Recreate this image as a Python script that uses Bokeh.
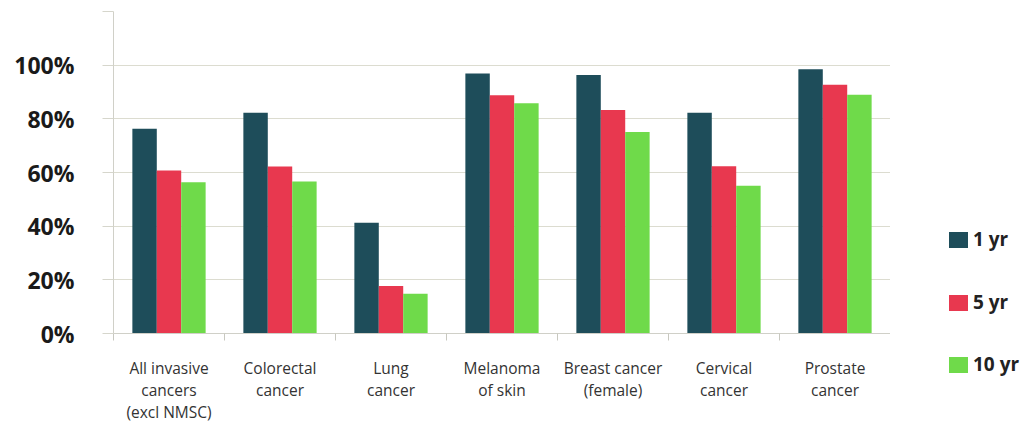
from bokeh.plotting import figure
from bokeh.layouts import row
from bokeh.models import (Range1d, LinearAxis, FixedTicker, ColumnDataSource, Div)
from bokeh.transform import dodge
from bokeh.embed import file_html
from bokeh.resources import INLINE

categories = ["All invasive\ncancers\n(excl NMSC)", "Colorectal\ncancer", "Lung\ncancer",
              "Melanoma\nof skin", "Breast cancer\n(female)", "Cervical\ncancer",
              "Prostate\ncancer"]
yr1 = [76.3, 82.3, 41.3, 96.9, 96.3, 82.3, 98.5]
yr5 = [60.7, 62.2, 17.7, 88.8, 83.3, 62.3, 92.7]
yr10 = [56.4, 56.6, 14.8, 85.8, 75.1, 55.1, 89.0]
series = ["1 yr", "5 yr", "10 yr"]
colors = ["#1e4d5a", "#e8384f", "#6fda4a"]
y_ticks = [0, 20, 40, 60, 80, 100]
y_labels = ["0%", "20%", "40%", "60%", "80%", "100%"]

n = len(categories)
centers = [i + 0.5 for i in range(n)]
bounds = list(range(n + 1))
source = ColumnDataSource(dict(x=centers, y1=yr1, y5=yr5, y10=yr10))
keys = ["y1", "y5", "y10"]
offsets = [-0.22, 0.0, 0.22]

p = figure(width=890, height=425, x_range=Range1d(0, n),
           y_range=Range1d(0, 120), x_axis_location=None,
           output_backend="svg", toolbar_location=None,
           min_border_left=113, min_border_top=11, min_border_right=0,
           min_border_bottom=88)
p.outline_line_color = None
p.background_fill_color = "white"

# y axis
ax = p.yaxis[0]
ax.ticker = FixedTicker(ticks=y_ticks + [120])
overrides = {t: l for t, l in zip(y_ticks, y_labels)}
overrides[120] = ""
ax.major_label_overrides = overrides
ax.axis_line_color = "#d0d0c8"
ax.major_tick_line_color = "#d6d6cc"
ax.major_tick_out = 11
ax.major_tick_in = 0
ax.minor_tick_line_color = None
ax.major_label_standoff = 28
ax.major_label_text_font = "Open Sans"
ax.major_label_text_font_style = "bold"
ax.major_label_text_font_size = "23px"
ax.major_label_text_color = "#1a1a1a"

p.ygrid.ticker = FixedTicker(ticks=y_ticks)
p.ygrid.grid_line_color = "#dcdcd0"
p.xgrid.grid_line_color = None

# bottom tick axis at category boundaries (no labels)
tickax = LinearAxis(ticker=FixedTicker(ticks=bounds),
                    major_label_overrides={b: "" for b in bounds},
                    major_label_text_font_size="1px", major_label_standoff=0,
                    major_tick_out=7, major_tick_in=0,
                    major_tick_line_color="#c8c8c0", axis_line_color="#d0d0c8",
                    minor_tick_line_color=None)
p.add_layout(tickax, "below")

catax = LinearAxis(ticker=FixedTicker(ticks=centers),
                   major_label_overrides={c: lab for c, lab in zip(centers, categories)},
                   major_tick_line_color=None, axis_line_color=None,
                   minor_tick_line_color=None,
                   major_label_standoff=10,
                   major_label_text_font="Open Sans",
                   major_label_text_font_size="15.5px",
                   major_label_text_color="#333333",
                   major_label_text_line_height=1.0)
p.add_layout(catax, "below")

# bars
for k, off, c in zip(keys, offsets, colors):
    p.vbar(x=dodge("x", off), top=k, width=0.22,
           source=source, fill_color=c, line_color=None)

# legend (HTML, to the right of the plot)
items_html = []
for i, (s, c) in enumerate(zip(series, colors)):
    top = 230 + 62.5 * i
    items_html.append(
        f'<div style="position:absolute;left:59px;top:{top}px;height:20px;'
        f'display:flex;align-items:center;white-space:nowrap;">'
        f'<span style="display:inline-block;width:19px;height:16px;background:{c};'
        f'margin-right:5px;"></span>{s}</div>')
legend_html = ('<div style="position:relative;width:139px;height:425px;'
               'font-family:\'Open Sans\';font-weight:bold;font-size:19px;color:#222222;">'
               + "".join(items_html) + '</div>')
lg = Div(text=legend_html, width=139, height=425, margin=0)

layout = row(p, lg, spacing=0)
open("out.html", "w").write(file_html(layout, INLINE))
